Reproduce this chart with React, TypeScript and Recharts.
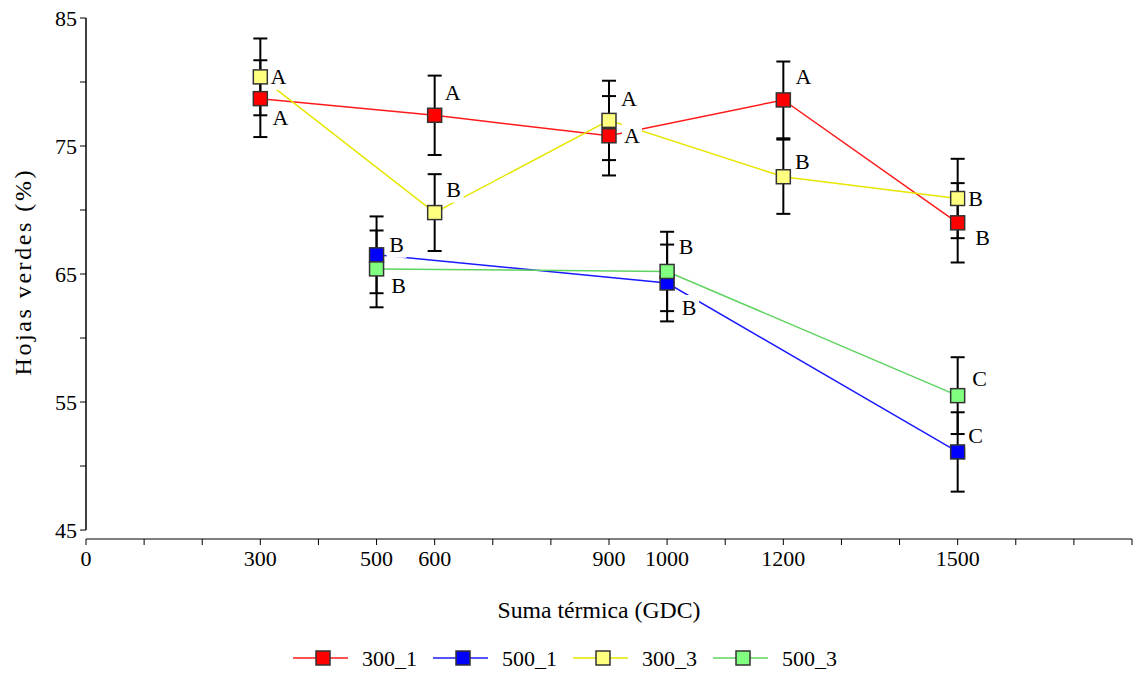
import React from "react";
import {
  LineChart,
  Line,
  XAxis,
  YAxis,
  ErrorBar,
  LabelList,
  ReferenceLine,
} from "recharts";

// Suma térmica (GDC) for each group of treatments
const xFirst = [300, 600, 900, 1200, 1500];
const xSecond = [500, 1000, 1500];

// Hojas verdes (%) with error and letter of significance
const v300_1 = [78.7, 77.4, 75.8, 78.6, 69.0];
const e300_1 = [3.0, 3.1, 3.1, 3.0, 3.1];
const l300_1 = ["A", "A", "A", "A", "B"];

const v500_1 = [66.5, 64.3, 51.1];
const e500_1 = [3.0, 3.0, 3.1];
const l500_1 = ["B", "B", "C"];

const v300_3 = [80.4, 69.8, 77.0, 72.6, 70.9];
const e300_3 = [3.0, 3.0, 3.1, 2.9, 3.1];
const l300_3 = ["A", "B", "A", "B", "B"];

const v500_3 = [65.4, 65.2, 55.5];
const e500_3 = [3.0, 3.1, 3.0];
const l500_3 = ["B", "B", "C"];

const xTicks = [0, 100, 200, 300, 400, 500, 600, 700, 800, 900, 1000, 1100, 1200, 1300, 1400, 1500, 1600, 1700, 1800];
const xTickLabels = [0, 300, 500, 600, 900, 1000, 1200, 1500];
const yTicks = [45, 50, 55, 60, 65, 70, 75, 80, 85];
const yTickLabels = [45, 55, 65, 75, 85];

const build = (xs: number[], vs: number[], es: number[], ls: string[]) =>
  xs.map((x, i) => ({ x, y: vs[i], err: es[i], letter: ls[i] }));

const series = [
  { name: "300_1", line: "#ff1a1a", fill: "#ff0000", data: build(xFirst, v300_1, e300_1, l300_1) },
  { name: "500_1", line: "#1a1aff", fill: "#0000ff", data: build(xSecond, v500_1, e500_1, l500_1) },
  { name: "300_3", line: "#e6e600", fill: "#ffff80", data: build(xFirst, v300_3, e300_3, l300_3) },
  { name: "500_3", line: "#5fd35f", fill: "#80ff80", data: build(xSecond, v500_3, e500_3, l500_3) },
];

// where each letter sits relative to its marker (px)
const letterOffsets: Record<string, [number, number][]> = {
  "300_1": [[20, 19], [18, -23], [23, 0], [20, -23], [25, 15]],
  "500_1": [[20, -10], [22, 25], [18, -16]],
  "300_3": [[18, 0], [19, -23], [20, -22], [19, -15], [18, 0]],
  "500_3": [[22, 17], [19, -25], [22, -17]],
};

const FONT = "Liberation Serif, Times New Roman, serif";
const FS = 22;

const squareDot = (fill: string) => (props: any) => {
  const { cx, cy, index } = props;
  if (cx == null || cy == null) return <g key={index} />;
  return (
    <rect
      key={index}
      x={cx - 7}
      y={cy - 7}
      width={14}
      height={14}
      fill={fill}
      stroke="#333"
      strokeWidth={1.5}
    />
  );
};

const letterLabel = (name: string) => (props: any) => {
  const { x, y, index, value } = props;
  const [dx, dy] = letterOffsets[name][index] || [18, 0];
  const cx = x + dx;
  const cy = y + dy;
  return (
    <g key={index}>
      <rect x={cx - 10} y={cy - 13} width={20} height={26} fill="#fff" />
      <text x={cx} y={cy + 7.5} textAnchor="middle" fontSize={FS} fontFamily={FONT} fill="#000">
        {value}
      </text>
    </g>
  );
};

export default function App() {
  return (
    <div style={{ position: "absolute", left: 0, top: 0, width: 1135, height: 673, background: "#fff", fontFamily: FONT }}>
      <LineChart
        width={1135}
        height={673}
        margin={{ top: 18, right: 3, left: 0, bottom: 0 }}
      >
        <XAxis
          dataKey="x"
          type="number"
          domain={[0, 1800]}
          ticks={xTicks}
          interval={0}
          allowDuplicatedCategory={false}
          height={134}
          tickSize={6}
          tickMargin={5}
          stroke="#000"
          tick={{ fill: "#000", fontSize: FS, fontFamily: FONT }}
          tickFormatter={(v: number) => (xTickLabels.includes(v) ? String(v) : "")}
          label={(p: any) => (
            <text
              x={599}
              y={p.viewBox.y + 79}
              textAnchor="middle"
              fontSize={23}
              fontFamily={FONT}
              fill="#000"
              textLength={203}
              lengthAdjust="spacingAndGlyphs"
            >
              Suma térmica (GDC)
            </text>
          )}
        />
        <YAxis
          type="number"
          domain={[44.3, 85]}
          ticks={yTicks}
          interval={0}
          width={86}
          axisLine={false}
          tickSize={6}
          tickMargin={3}
          stroke="#000"
          tick={{ fill: "#000", fontSize: FS, fontFamily: FONT }}
          tickFormatter={(v: number) => (yTickLabels.includes(v) ? String(v) : "")}
          label={() => (
            <text
              x={23}
              y={273}
              transform="rotate(-90, 23, 273)"
              textAnchor="middle"
              dominantBaseline="central"
              fontSize={24}
              fontFamily={FONT}
              fill="#000"
              textLength={205}
              lengthAdjust="spacing"
            >
              Hojas verdes (%)
            </text>
          )}
        />
        <ReferenceLine
          segment={[
            { x: 0, y: 45 },
            { x: 0, y: 85 },
          ]}
          stroke="#000"
          strokeWidth={1.5}
          ifOverflow="visible"
        />
        {series.map((s) => (
          <Line
            key={s.name}
            data={s.data}
            dataKey="y"
            name={s.name}
            stroke={s.line}
            strokeWidth={1.5}
            dot={squareDot(s.fill)}
            activeDot={false}
            isAnimationActive={false}
          >
            <ErrorBar dataKey="err" direction="y" width={7} stroke="#000" strokeWidth={2} />
          </Line>
        ))}
        {series.map((s) => (
          <Line
            key={s.name + "-letters"}
            data={s.data}
            dataKey="y"
            stroke="none"
            dot={false}
            activeDot={false}
            legendType="none"
            isAnimationActive={false}
          >
            <LabelList dataKey="letter" content={letterLabel(s.name)} />
          </Line>
        ))}
      </LineChart>
      <svg
        width={1135}
        height={40}
        style={{ position: "absolute", left: 0, top: 638 }}
      >
        {series.map((s, i) => {
          const x0 = 293 + i * 140;
          return (
            <g key={s.name}>
              <line x1={x0} y1={20} x2={x0 + 55} y2={20} stroke={s.line} strokeWidth={1.5} />
              <rect x={x0 + 23} y={13} width={14} height={14} fill={s.fill} stroke="#333" strokeWidth={1.5} />
              <text x={x0 + 69} y={28} fontSize={FS} fontFamily={FONT} fill="#000">
                {s.name}
              </text>
            </g>
          );
        })}
      </svg>
    </div>
  );
}
